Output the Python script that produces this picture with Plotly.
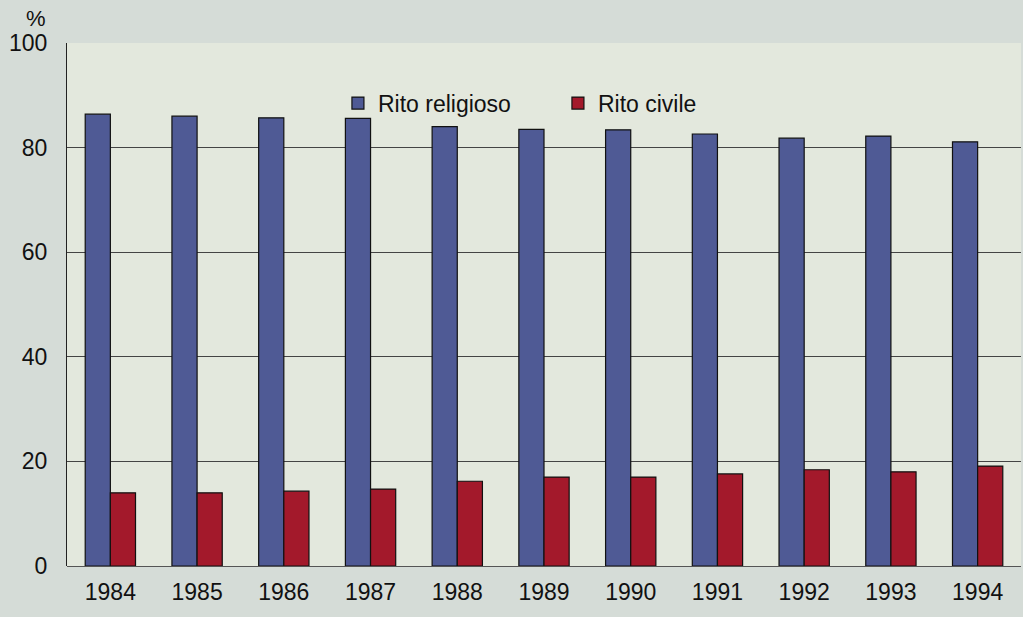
import plotly.graph_objects as go

years = ["1984", "1985", "1986", "1987", "1988", "1989", "1990", "1991", "1992", "1993", "1994"]
religioso = [86.4, 86.0, 85.7, 85.6, 84.0, 83.5, 83.4, 82.6, 81.8, 82.2, 81.1]
civile = [14.0, 14.0, 14.3, 14.7, 16.2, 17.0, 17.0, 17.6, 18.4, 18.0, 19.1]
y_ticks = [0, 20, 40, 60, 80, 100]

FONT = "Liberation Sans, Arial, sans-serif"

fig = go.Figure()
fig.add_trace(go.Bar(x=years, y=religioso, name="Rito religioso",
                     marker=dict(color="#4f5a95", line=dict(color="#111111", width=1.2))))
fig.add_trace(go.Bar(x=years, y=civile, name="Rito civile",
                     marker=dict(color="#a3192b", line=dict(color="#111111", width=1.2))))

fig.update_layout(
    width=1023, height=617,
    margin=dict(l=67, r=2, t=43, b=51),
    paper_bgcolor="#d5dcd7",
    plot_bgcolor="#e3e8dd",
    barmode="group",
    bargap=0.42,
    bargroupgap=0,
    font=dict(family=FONT, size=23, color="#111111"),
    showlegend=True,
    legend=dict(orientation="h", x=0.284, y=0.885, xanchor="left", yanchor="middle",
                bgcolor="rgba(0,0,0,0)", font=dict(size=23, family=FONT),
                entrywidth=175, entrywidthmode="pixels", itemwidth=30),
    xaxis=dict(showgrid=False, showline=False, ticks="", tickfont=dict(size=23),
               ticklabelstandoff=10),
    yaxis=dict(range=[0, 100], tickvals=y_ticks, showgrid=True, gridcolor="#444444",
               gridwidth=1, showline=True, linecolor="#222222", linewidth=1.2,
               zeroline=True, zerolinecolor="#555555", zerolinewidth=1,
               ticks="", tickfont=dict(size=23), ticklabelstandoff=14),
    annotations=[dict(text="%", xref="paper", yref="paper", x=-0.033, y=1.0,
                      xanchor="center", yanchor="middle",
                      yshift=25, showarrow=False, font=dict(size=22, family=FONT))],
)

fig.write_html("out.html", config={"displayModeBar": False},
               post_script="document.body.style.margin='0';document.body.style.overflow='hidden';")
